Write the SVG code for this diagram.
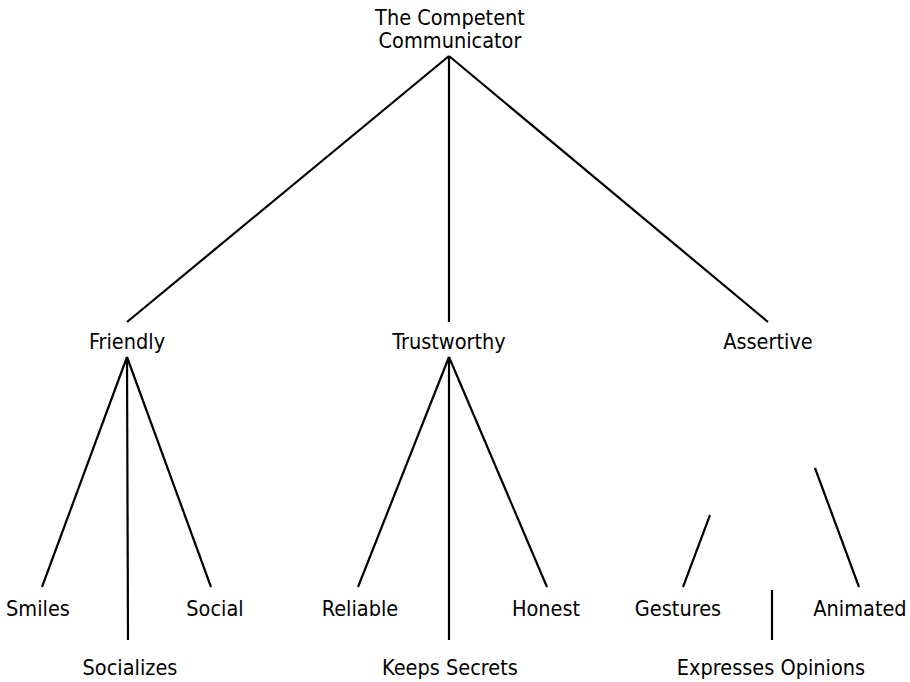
<svg xmlns="http://www.w3.org/2000/svg" width="910" height="682" viewBox="0 0 910 682">
<style>
.t{font-family:"DejaVu Sans Condensed","DejaVu Sans",sans-serif;font-stretch:condensed;font-size:21.5px;fill:#000;text-anchor:middle}
.c line{stroke:#000;stroke-width:2.2;stroke-linecap:butt}
</style>
<rect width="910" height="682" fill="#fff"/>
<g class="c" id="connectors">
<line x1="449" y1="56" x2="127" y2="322"/>
<line x1="449" y1="56" x2="449" y2="322"/>
<line x1="449" y1="56" x2="768" y2="322"/>
<line x1="127" y1="357" x2="42" y2="587"/>
<line x1="127" y1="357" x2="128" y2="640"/>
<line x1="127" y1="357" x2="211" y2="587"/>
<line x1="449" y1="357" x2="358" y2="587"/>
<line x1="449" y1="357" x2="449" y2="640"/>
<line x1="449" y1="357" x2="547" y2="587"/>
<line x1="710" y1="515" x2="683" y2="587"/>
<line x1="772" y1="590" x2="772" y2="640"/>
<line x1="815" y1="468" x2="859" y2="587"/>
</g>
<g id="root"><text class="t" x="450" y="25">The Competent</text><text class="t" x="450" y="48">Communicator</text></g>
<g id="friendly"><text class="t" x="127" y="349">Friendly</text></g>
<g id="trustworthy"><text class="t" x="449" y="349">Trustworthy</text></g>
<g id="assertive"><text class="t" x="768" y="349">Assertive</text></g>
<g id="smiles"><text class="t" x="38" y="616">Smiles</text></g>
<g id="socializes"><text class="t" x="130" y="675">Socializes</text></g>
<g id="social"><text class="t" x="215" y="616">Social</text></g>
<g id="reliable"><text class="t" x="360" y="616">Reliable</text></g>
<g id="keepssecrets"><text class="t" x="450" y="675">Keeps Secrets</text></g>
<g id="honest"><text class="t" x="546" y="616">Honest</text></g>
<g id="gestures"><text class="t" x="678" y="616">Gestures</text></g>
<g id="expresses"><text class="t" x="771" y="675">Expresses Opinions</text></g>
<g id="animated"><text class="t" x="860" y="616">Animated</text></g>
</svg>
